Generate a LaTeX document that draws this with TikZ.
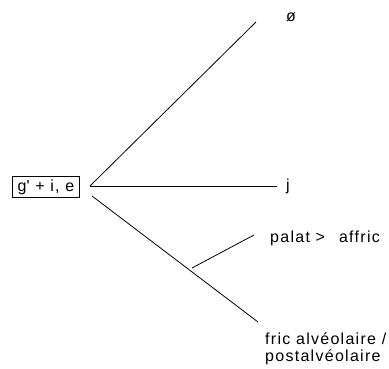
\documentclass[tikz,border=0pt]{standalone}
\usepackage{fontspec}
\setmainfont[LetterSpace=8]{Liberation Sans}
\begin{document}
\begin{tikzpicture}[x=1pt,y=-1pt,
  lbl/.style={font=\fontsize{16}{17}\selectfont, inner sep=0pt},
  edge/.style={line width=0.8pt, black}]
\useasboundingbox (0,0) rectangle (389,369);
\node[lbl, draw, line width=0.8pt, minimum width=67pt, minimum height=21pt] (src) at (46,187) {g\textquotesingle\ + i, e};
\coordinate (o1) at (90,186);
\coordinate (o2) at (92,196);
\coordinate (eup) at (256,22);
\coordinate (emid) at (277,186);
\coordinate (br) at (192,268);
\coordinate (ebr) at (254,235);
\coordinate (elow) at (258,322);
\node[lbl] (t1) at (291,17) {ø};
\node[lbl, anchor=base west] (t2) at (286,191) {j};
\node[lbl, anchor=base west] (t3) at (270,242) {palat >\hspace{14pt}affric};
\node[lbl, anchor=base west, align=left] (t4) at (265,361) {fric alvéolaire /\\postalvéolaire};
\draw[edge] (o1) -- (eup);
\draw[edge] (o1) -- (emid);
\draw[edge] (o2) -- (elow);
\draw[edge] (br) -- (ebr);
\end{tikzpicture}
\end{document}
